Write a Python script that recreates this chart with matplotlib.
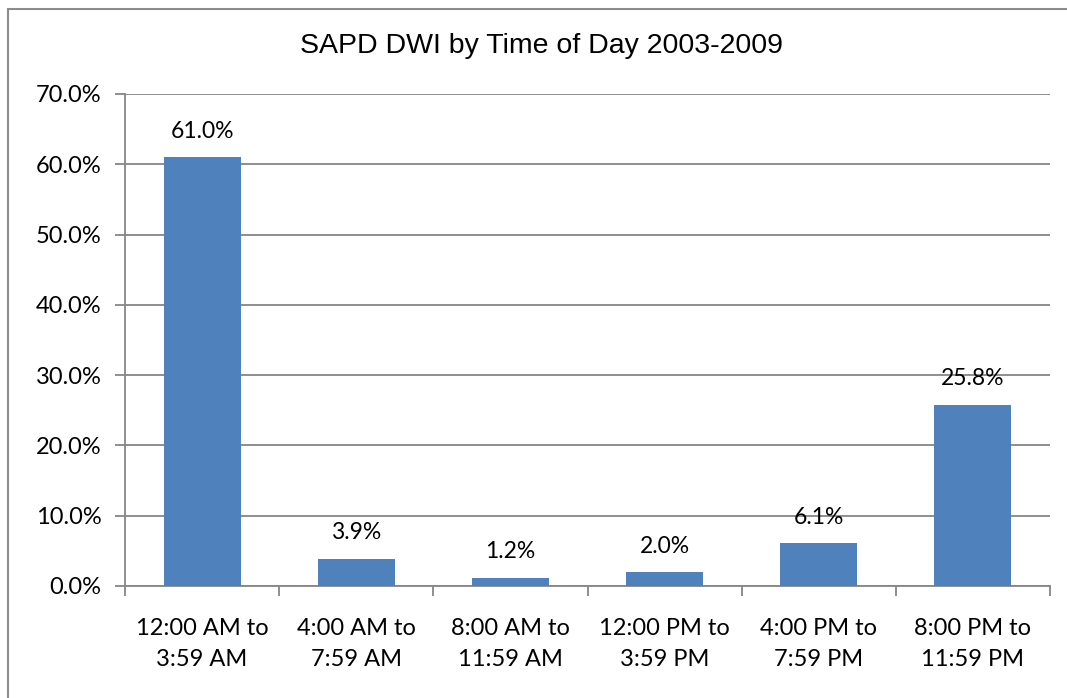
import matplotlib.pyplot as plt
from matplotlib.patches import Rectangle
import numpy as np

# data
categories = ["12:00 AM to\n3:59 AM", "4:00 AM to\n7:59 AM", "8:00 AM to\n11:59 AM",
              "12:00 PM to\n3:59 PM", "4:00 PM to\n7:59 PM", "8:00 PM to\n11:59 PM"]
values = [61.0, 3.9, 1.2, 2.0, 6.1, 25.8]
y_ticks = [0, 10, 20, 30, 40, 50, 60, 70]

label_font = "Lato"
grid_col = "#868686"

fig = plt.figure(figsize=(10.67, 6.98), dpi=100)
ax = fig.add_axes([125 / 1067, 1 - 586 / 698, 925 / 1067, 492 / 698])

# outer chart border
fig.patches.append(Rectangle((8 / 1067, -0.1), 1.2, 1 - 9 / 698 + 0.1, transform=fig.transFigure,
                             fill=False, edgecolor="#8c8c8c", linewidth=1.5, zorder=0))

x = np.arange(len(values))
bars = ax.bar(x, values, width=0.5, color="#4f81bd", zorder=3)
for b, v in zip(bars, values):
    ax.annotate(f"{v:.1f}%", (b.get_x() + b.get_width() / 2, v), xytext=(0, 11),
                textcoords="offset points", ha="center", va="bottom",
                fontsize=16.5, family=label_font, color="black")

ax.set_xlim(-0.5, len(values) - 0.5)
ax.set_ylim(0, 70)
ax.set_yticks(y_ticks)
ax.set_yticklabels([f"{t:.1f}%" for t in y_ticks], family=label_font, fontsize=17)
ax.yaxis.grid(True, color=grid_col, linewidth=1.3, zorder=0)
ax.set_axisbelow(True)

ax.set_xticks(x)
ax.set_xticklabels(categories, family=label_font, fontsize=17, linespacing=1.6)
ax.set_xticks(np.arange(-0.5, len(values)), minor=True)
ax.tick_params(axis="x", which="major", length=0, pad=23)
ax.tick_params(axis="x", which="minor", length=7, width=1.3, color=grid_col)
ax.tick_params(axis="y", length=7, width=1.3, color=grid_col, pad=10)

for s in ["top", "right"]:
    ax.spines[s].set_visible(False)
for s in ["left", "bottom"]:
    ax.spines[s].set_color(grid_col)
    ax.spines[s].set_linewidth(1.3)

fig.text(542 / 1067, 1 - 46 / 698, "SAPD DWI by Time of Day 2003-2009", ha="center", va="center",
         fontsize=20.5, family="Liberation Sans")

fig.savefig("out.png", dpi=100)
